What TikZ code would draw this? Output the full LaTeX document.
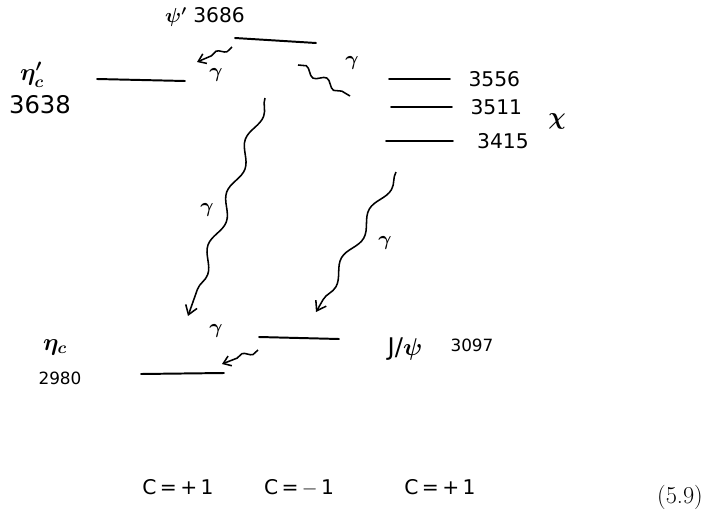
\documentclass[tikz,border=0pt]{standalone}
\usepackage{amsmath}
\usepackage{fontspec}
\setsansfont{DejaVu Sans}
\usetikzlibrary{arrows.meta, positioning, decorations.pathmorphing}
\tikzset{
	lvl/.style      ={line width=1.4pt, line cap=round},
	lbl/.style      ={font=\sffamily\Large, inner sep=1pt},
	mass/.style     ={font=\sffamily\Large, inner sep=1pt},
	% photon lines
	photon/.style   ={-{Straight Barb[length=2.2mm, width=3mm]}, line width=1.1pt, decorate,
	                  decoration={snake, amplitude=1.2mm, segment length=14mm, post length=2.5mm}},
	photonsh/.style ={-{Straight Barb[length=1.8mm, width=2.6mm]}, line width=1.1pt, decorate,
	                  decoration={snake, amplitude=0.6mm, segment length=5mm, post length=2mm}},
}

\begin{document}
\begin{tikzpicture}[x=0.025cm, y=-0.025cm]
			\useasboundingbox (0,0) rectangle (706,520);
			% levels
			\coordinate (psiL) at (235,38);  \coordinate (psiR) at (316,43);
			\coordinate (etapL) at (97,79);  \coordinate (etapR) at (185,81);
			\coordinate (chiaL) at (389,79); \coordinate (chiaR) at (450,79);
			\coordinate (chibL) at (391,107);\coordinate (chibR) at (452,107);
			\coordinate (chicL) at (386,141);\coordinate (chicR) at (453,141);
			\coordinate (jpsiL) at (259,337);\coordinate (jpsiR) at (339,339);
			\coordinate (etaL) at (141,374); \coordinate (etaR) at (224,373);
			\foreach \l in {psi, etap, chia, chib, chic, jpsi, eta}
				\draw[lvl] (\l L) -- (\l R);
			% labels
			\node[lbl] (psilab) at (205,17) {$\boldsymbol{\psi'}$ 3686};
			\node[lbl, font=\LARGE] (etaplab) at (32,75) {$\boldsymbol{\eta_c'}$};
			\node[mass, font=\sffamily\LARGE] (etapm) at (40,105) {3638};
			\node[mass, right=12pt of chiaR] (m3556) {3556};
			\node[mass, right=12pt of chibR] (m3511) {3511};
			\node[mass, right=16pt of chicR] (m3415) {3415};
			\node[lbl, font=\LARGE] (chilab) at (557,121) {$\boldsymbol{\chi}$};
			\node[lbl, font=\sffamily\LARGE] (jpsilab) at (405,349) {J/$\boldsymbol{\psi}$};
			\node[mass, font=\sffamily\large] (m3097) at (472,345) {3097};
			\node[lbl, font=\LARGE] (etalab) at (55,347) {$\boldsymbol{\eta_c}$};
			\node[mass, font=\sffamily\large] (etam) at (60,378) {2980};
			% photons
			\coordinate (g1s) at (232,47);  \coordinate (g1e) at (197,62);
			\coordinate (g2s) at (298,65);  \coordinate (g2e) at (350,96);
			\coordinate (g3s) at (265,98);  \coordinate (g3e) at (188,316);
			\coordinate (g4s) at (396,172); \coordinate (g4e) at (316,312);
			\coordinate (g5s) at (258,350); \coordinate (g5e) at (222,364);
			\draw[photonsh] (g1s) -- (g1e);
			\draw[line width=1.1pt, decorate, decoration={snake, amplitude=0.9mm, segment length=6mm}] (g2s) -- (g2e);
			\draw[photon] (g3s) -- (g3e);
			\draw[photon] (g4s) -- (g4e);
			\draw[photonsh] (g5s) -- (g5e);
			\node[lbl] (ga1) at (216,75) {$\boldsymbol{\gamma}$};
			\node[lbl] (ga2) at (352,63) {$\boldsymbol{\gamma}$};
			\node[lbl] (ga3) at (207,210) {$\boldsymbol{\gamma}$};
			\node[lbl] (ga4) at (385,243) {$\boldsymbol{\gamma}$};
			\node[lbl] (ga5) at (216,331) {$\boldsymbol{\gamma}$};
			% charge conjugation
			\node[lbl] (cl) at (178,487) {C\,=\,+\,1};
			\node[lbl] (cm) at (299,488) {C\,=\,$-$\,1};
			\node[lbl] (cr) at (440,487) {C\,=\,+\,1};
			\node[font=\rmfamily\LARGE] (eqn) at (680,497) {(5.9)};
		\end{tikzpicture}
\end{document}
